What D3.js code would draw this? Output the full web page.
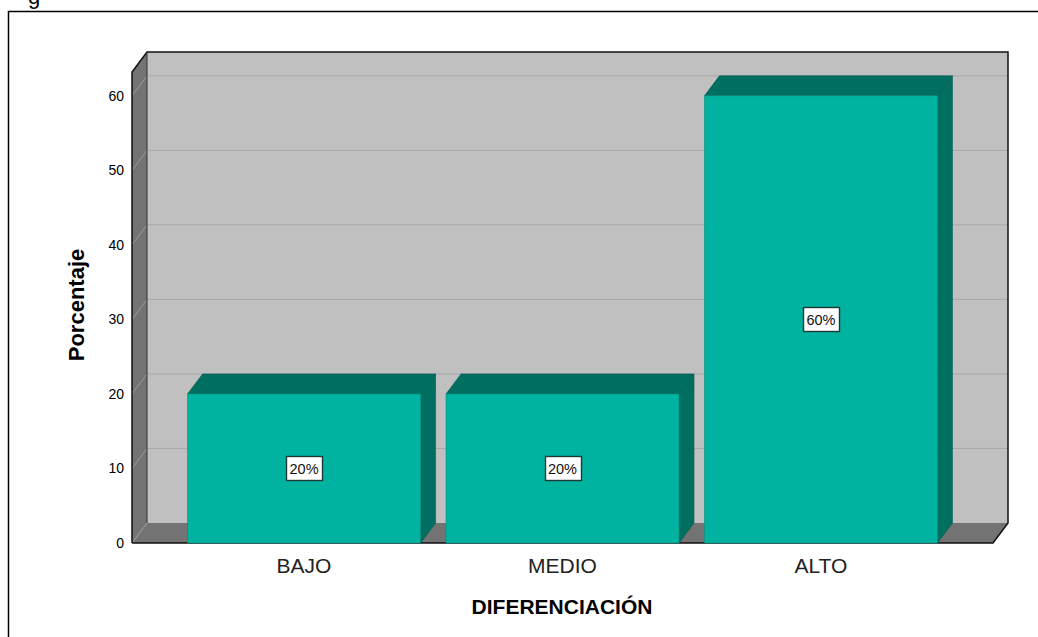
<!DOCTYPE html>
<html>
<head>
<meta charset="utf-8">
<script src="https://cdn.jsdelivr.net/npm/d3@7"></script>
<style>
  body { margin: 0; background: #fff; }
  text { font-family: Arial, "Liberation Sans", sans-serif; }
</style>
</head>
<body>
<div id="chart"></div>
<script>
var categories = ['BAJO', 'MEDIO', 'ALTO'];
var percentages = [20, 20, 60];
var yTicks = [0, 10, 20, 30, 40, 50, 60];

var width = 1038, height = 637;
var dx = 15, dy = -20;          // depth offset of the 3D box
var left = 132, right = 993, floorY = 543;

var svg = d3.select('#chart').append('svg')
    .attr('width', width)
    .attr('height', height);

var y = d3.scaleLinear()
    .domain([0, 63.2])
    .range([floorY, 72]);

var x = d3.scaleBand()
    .domain(categories)
    .range([left, right])
    .paddingInner(0.0986)
    .paddingOuter(0.215);

// caption fragment and outer frame
svg.append('text')
    .attr('x', 28).attr('y', 4)
    .style('font-size', '22px')
    .text('g');

svg.append('rect')
    .attr('x', 8.5).attr('y', 11.5)
    .attr('width', 1040).attr('height', 640)
    .attr('fill', 'none')
    .attr('stroke', '#000')
    .attr('stroke-width', 1.5);

var yTop = y.range()[1];

// back wall
svg.append('rect')
    .attr('x', left + dx).attr('y', yTop + dy)
    .attr('width', right - left)
    .attr('height', floorY - yTop)
    .attr('fill', '#c0c0c0');

// side wall
svg.append('polygon')
    .attr('points', [[left, floorY], [left, yTop], [left + dx, yTop + dy], [left + dx, floorY + dy]].join(' '))
    .attr('fill', '#737373');

// floor
svg.append('polygon')
    .attr('points', [[left, floorY], [left + dx, floorY + dy], [right + dx, floorY + dy], [right, floorY]].join(' '))
    .attr('fill', '#737373');

// gridlines
var grid = svg.append('g');
grid.selectAll('line.back')
    .data(yTicks.filter(function(d) { return d > 0; }))
    .enter().append('line')
    .attr('x1', left + dx).attr('x2', right + dx)
    .attr('y1', function(d) { return y(d) + dy; })
    .attr('y2', function(d) { return y(d) + dy; })
    .attr('stroke', '#a9a9a9');
grid.selectAll('line.side')
    .data(yTicks)
    .enter().append('line')
    .attr('x1', left).attr('x2', left + dx)
    .attr('y1', function(d) { return y(d); })
    .attr('y2', function(d) { return y(d) + dy; })
    .attr('stroke', '#9a9a9a');

// outlines of the box
svg.append('polyline')
    .attr('points', [[left, floorY], [left, yTop], [left + dx, yTop + dy], [right + dx, yTop + dy], [right + dx, floorY + dy], [right, floorY], [left, floorY]].join(' '))
    .attr('fill', 'none')
    .attr('stroke', '#111')
    .attr('stroke-width', 1.5);
svg.append('line')
    .attr('x1', left + dx).attr('x2', left + dx)
    .attr('y1', yTop + dy).attr('y2', floorY + dy)
    .attr('stroke', '#333');

// bars
var bw = x.bandwidth();
var bars = svg.selectAll('g.bar')
    .data(percentages)
    .enter().append('g')
    .attr('class', 'bar');

bars.append('polygon')
    .attr('points', function(d, i) {
      var x0 = x(categories[i]), yv = y(d);
      return [[x0 + bw, yv], [x0 + bw + dx, yv + dy], [x0 + bw + dx, floorY + dy], [x0 + bw, floorY]].join(' ');
    })
    .attr('fill', '#006e60')
    .attr('stroke', '#005a4e')
    .attr('stroke-width', 0.6);

bars.append('polygon')
    .attr('points', function(d, i) {
      var x0 = x(categories[i]), yv = y(d);
      return [[x0, yv], [x0 + dx, yv + dy], [x0 + bw + dx, yv + dy], [x0 + bw, yv]].join(' ');
    })
    .attr('fill', '#006e60')
    .attr('stroke', '#005a4e')
    .attr('stroke-width', 0.6);

bars.append('rect')
    .attr('x', function(d, i) { return x(categories[i]); })
    .attr('y', function(d) { return y(d); })
    .attr('width', bw)
    .attr('height', function(d) { return floorY - y(d); })
    .attr('fill', '#00b3a0')
    .attr('stroke', '#00907f')
    .attr('stroke-width', 0.6);

// value labels
bars.each(function(d, i) {
  var g = d3.select(this);
  var cx = x(categories[i]) + bw / 2, cy = y(d / 2);
  g.append('rect')
      .attr('x', Math.round(cx - 18) + 0.5)
      .attr('y', Math.round(cy - 12) + 0.5)
      .attr('width', 36)
      .attr('height', 24)
      .attr('fill', '#fff')
      .attr('stroke', '#1a3a35')
      .attr('stroke-width', 1.4);
  g.append('text')
      .attr('x', cx).attr('y', cy + 5.5)
      .attr('text-anchor', 'middle')
      .style('font-size', '14.5px')
      .style('fill', '#111')
      .text(d + '%');
});

// y tick labels
svg.selectAll('text.ytick')
    .data(yTicks)
    .enter().append('text')
    .attr('x', 124)
    .attr('y', function(d) { return y(d) + 5; })
    .attr('text-anchor', 'end')
    .style('font-size', '14px')
    .text(function(d) { return d; });

// x category labels
svg.selectAll('text.xcat')
    .data(categories)
    .enter().append('text')
    .attr('x', function(d) { return x(d) + bw / 2; })
    .attr('y', 573)
    .attr('text-anchor', 'middle')
    .style('font-size', '21px')
    .style('fill', '#222')
    .text(function(d) { return d; });

// axis titles
svg.append('text')
    .attr('x', 562).attr('y', 614)
    .attr('text-anchor', 'middle')
    .style('font-size', '21px')
    .style('font-weight', 'bold')
    .text('DIFERENCIACIÓN');

svg.append('text')
    .attr('transform', 'translate(84,305) rotate(-90)')
    .attr('text-anchor', 'middle')
    .style('font-size', '22px')
    .style('font-weight', 'bold')
    .text('Porcentaje');
</script>
</body>
</html>
